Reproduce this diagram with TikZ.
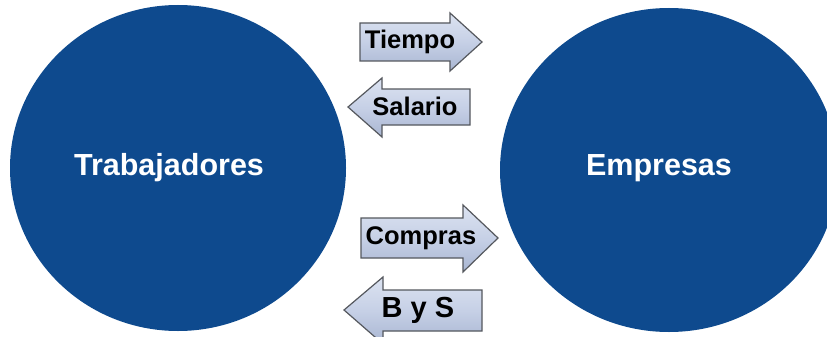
\documentclass[tikz,border=0pt]{standalone}
\usepackage{fontspec}
\setmainfont{Liberation Sans}
\usetikzlibrary{shapes.geometric}
\begin{document}
\begin{tikzpicture}[x=1pt,y=-1pt,
  blob/.style={ellipse,fill=ellblue,draw=none,inner sep=0pt},
  blobtext/.style={text=white,font=\fontsize{30.5}{31}\selectfont\bfseries},
  arr/.style={draw=arrgray,line width=1.2pt,line join=miter,top color=arrtop,bottom color=arrbot,middle color=arrmid},
  arrtext/.style={font=\fontsize{25.5}{26}\selectfont\bfseries,text=black,inner sep=0pt}]
\definecolor{ellblue}{HTML}{0E4A8E}
\definecolor{arrgray}{HTML}{55585E}
\definecolor{arrtop}{HTML}{DCE3F1}
\definecolor{arrmid}{HTML}{C6D0E6}
\definecolor{arrbot}{HTML}{A9B6D2}
\useasboundingbox (0,0) rectangle (827,337);
\clip (0,0) rectangle (827,337);
\fill[white] (0,0) rectangle (827,337);
% ellipses
\node[blob,minimum width=336pt,minimum height=326pt] (trab) at (178,168) {};
\node[blob,minimum width=338pt,minimum height=324pt] (emp) at (669,170) {};
\node[blobtext] (trabt) at (169,168) {Trabajadores};
\node[blobtext] (empt) at (659,168) {Empresas};
% Tiempo (right)
\path[arr] (360,23) -- (450,23) -- (450,13) -- (482,42) -- (450,71) -- (450,61) -- (360,61) -- cycle;
\node[arrtext] (tiempo) at (410,42) {Tiempo};
% Salario (left)
\path[arr] (470,89) -- (382,89) -- (382,78) -- (348,107) -- (382,137) -- (382,125) -- (470,125) -- cycle;
\node[arrtext] (salario) at (415,106) {Salario};
% Compras (right)
\path[arr] (361,218) -- (463,218) -- (463,205) -- (498,238) -- (463,272) -- (463,258) -- (361,258) -- cycle;
\node[arrtext] (compras) at (421,238) {Compras};
% B y S (left)
\path[arr] (482,290) -- (383,290) -- (383,277) -- (344,310) -- (383,344) -- (383,331) -- (482,331) -- cycle;
\node[arrtext,font=\fontsize{29}{30}\selectfont\bfseries] (bys) at (418,310) {B y S};
\end{tikzpicture}
\end{document}
